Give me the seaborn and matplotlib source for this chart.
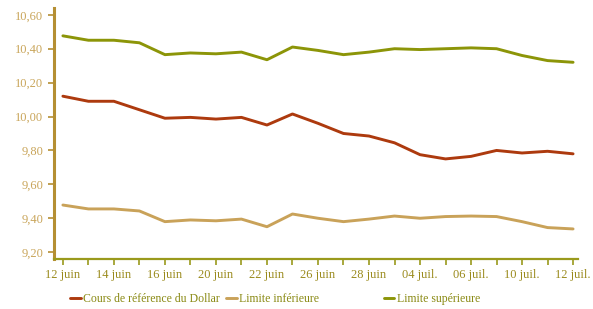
import pandas as pd
import matplotlib
matplotlib.use('Agg')
import matplotlib.pyplot as plt
import seaborn as sns
from matplotlib.ticker import FuncFormatter

sns.set_style('white')
plt.rcParams['font.family'] = ['Liberation Serif', 'DejaVu Serif']

# Données
dates = ['12 juin', '13 juin', '14 juin', '15 juin', '16 juin', '19 juin', '20 juin',
         '21 juin', '22 juin', '23 juin', '26 juin', '27 juin', '28 juin', '30 juin',
         '04 juil.', '05 juil.', '06 juil.', '07 juil.', '10 juil.', '11 juil.', '12 juil.']
cours = [10.12, 10.09, 10.09, 10.04, 9.99, 9.995, 9.985, 9.995, 9.95, 10.015, 9.96,
         9.90, 9.885, 9.845, 9.775, 9.75, 9.765, 9.80, 9.785, 9.795, 9.78]
limite_inf = [9.478, 9.455, 9.455, 9.443, 9.38, 9.39, 9.385, 9.395, 9.35, 9.425, 9.40,
              9.38, 9.395, 9.413, 9.40, 9.41, 9.413, 9.41, 9.38, 9.345, 9.337]
limite_sup = [10.476, 10.45, 10.45, 10.435, 10.365, 10.375, 10.37, 10.38, 10.335, 10.41, 10.39,
              10.365, 10.38, 10.40, 10.395, 10.40, 10.405, 10.40, 10.36, 10.33, 10.32]

series = ['Cours de référence du Dollar', 'Limite inférieure', 'Limite supérieure']
couleurs = ['#ad3a0e', '#c9a259', '#8c9508']

df = pd.DataFrame({'date': dates * 3,
                   'pos': list(range(len(dates))) * 3,
                   'valeur': cours + limite_inf + limite_sup,
                   'serie': [series[0]] * len(dates) + [series[1]] * len(dates) + [series[2]] * len(dates)})

fig = plt.figure(figsize=(5.93, 3.09), dpi=100)
ax = fig.add_axes([0.091, 0.162, 0.884, 0.812])

sns.lineplot(data=df, x='pos', y='valeur', hue='serie', hue_order=series,
             palette=couleurs, linewidth=2.1, legend=False, ax=ax)

ax.set_xlim(-0.35, 20.2)
ax.set_ylim(9.16, 10.64)
ax.set_xlabel('')
ax.set_ylabel('')

ax.set_xticks(range(len(dates)))
ax.set_xticklabels([d if i % 2 == 0 else '' for i, d in enumerate(dates)])
ax.set_yticks([9.2, 9.4, 9.6, 9.8, 10.0, 10.2, 10.4, 10.6])
ax.yaxis.set_major_formatter(FuncFormatter(lambda v, p: f'{v:.2f}'.replace('.', ',')))

for s in ['top', 'right']:
    ax.spines[s].set_visible(False)
ax.spines['left'].set_color('#b58f33')
ax.spines['left'].set_linewidth(2.2)
ax.spines['bottom'].set_color('#9a9a1c')
ax.spines['bottom'].set_linewidth(1.6)

ax.tick_params(axis='y', colors='#b58f33', labelcolor='#c9a55a', length=4, width=1.2,
               labelsize=9, pad=3.5, left=True)
ax.tick_params(axis='x', colors='#9a9a1c', labelcolor='#9a8a1c', length=4, width=1.2,
               labelsize=9, pad=3, bottom=True)

# Légende en trois colonnes de largeur fixe
lignes = ax.get_lines()
positions = [0.118, 0.381, 0.647]
for ligne, nom, x in zip(lignes, series, positions):
    fig.legend([ligne], [nom], loc='center left', bbox_to_anchor=(x, 0.033), frameon=False,
               handlelength=0.9, handletextpad=0.2, borderaxespad=0, borderpad=0,
               prop={'size': 8.5}, labelcolor='#8a8a14')

fig.savefig('out.png', dpi=100)
